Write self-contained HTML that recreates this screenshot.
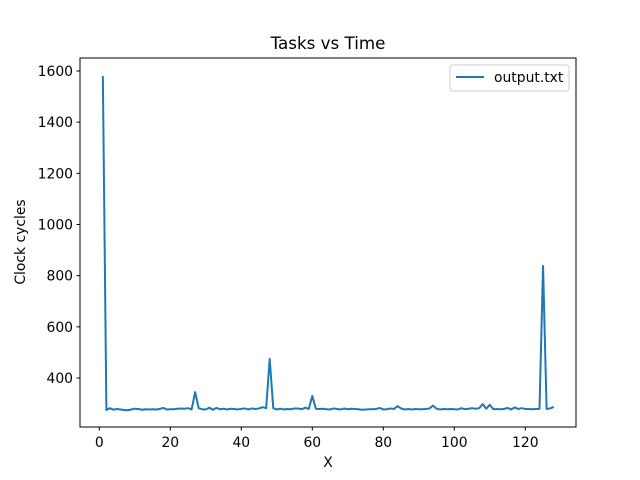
<!DOCTYPE html>
<html><head><meta charset="utf-8"><style>
body{margin:0;background:#fff}
svg{display:block;font-family:"DejaVu Sans","Liberation Sans",sans-serif}
</style></head><body>
<svg id="c" width="640" height="480">
<rect x="0" y="0" width="640" height="480" fill="#fff"/>
<text x="328" y="49" font-size="16.7" text-anchor="middle">Tasks vs Time</text>
<g id="plot"></g>
<rect x="80" y="58" width="496" height="369" fill="none" stroke="#000" stroke-width="1"/>
<text x="328" y="467" font-size="13.9" text-anchor="middle">X</text>
<text transform="translate(25,242) rotate(-90)" font-size="13.9" text-anchor="middle">Clock cycles</text>
<g>
<rect x="450" y="65" width="119" height="26" rx="3" fill="#fff" stroke="#ccc"/>
<line x1="456" y1="77" x2="484" y2="77" stroke="#1f77b4" stroke-width="2"/>
<text x="494" y="82" font-size="13.9">output.txt</text>
</g>
</svg>
<script>
const xTicks=[0,20,40,60,80,100,120];
const yTicks=[400,600,800,1000,1200,1400,1600];
const xs=[];for(let i=1;i<=128;i++)xs.push(i);
const ys=[1580,275,282,276,279,277,275,274,277,280,279,276,278,277,278,277,279,283,277,278,278,280,281,280,282,277,345,282,278,277,284,276,283,278,280,277,280,279,277,280,281,277,281,279,281,286,282,475,282,277,280,277,279,278,281,281,278,284,279,330,280,279,280,278,277,281,279,277,281,278,280,279,278,276,277,278,278,279,283,277,278,281,279,290,281,277,279,277,279,278,278,279,281,292,280,277,279,278,279,278,277,282,278,280,282,280,282,298,280,295,278,279,278,279,283,277,285,279,282,279,279,278,279,280,838,279,281,287];
const X=v=>99.3+v*3.55;
const Y=v=>378-(v-400)*(378-71)/1200;
const g=document.getElementById('plot');
const ns='http://www.w3.org/2000/svg';
xTicks.forEach(t=>{
 const l=document.createElementNS(ns,'line');
 
 
 l.setAttribute('x1',X(t));l.setAttribute('x2',X(t));l.setAttribute('y1',427);l.setAttribute('y2',430.5);l.setAttribute('stroke','#000');g.appendChild(l);
 const s=document.createElementNS(ns,'text');
 
 
 s.setAttribute('x',X(t));s.setAttribute('y',447);s.setAttribute('font-size','13.9');s.setAttribute('text-anchor','middle');s.textContent=t;g.appendChild(s);
});
yTicks.forEach(t=>{
 const l=document.createElementNS(ns,'line');
 
 
 l.setAttribute('x1',76.5);l.setAttribute('x2',80);l.setAttribute('y1',Y(t));l.setAttribute('y2',Y(t));l.setAttribute('stroke','#000');g.appendChild(l);
 const s=document.createElementNS(ns,'text');
 
 
 s.setAttribute('x',73);s.setAttribute('y',Y(t)+5);s.setAttribute('font-size','13.9');s.setAttribute('text-anchor','end');s.textContent=t;g.appendChild(s);
});
const p=document.createElementNS(ns,'polyline');


p.setAttribute('points',xs.map((x,i)=>X(x)+','+Y(ys[i])).join(' '));
p.setAttribute('fill','none');p.setAttribute('stroke','#1f77b4');p.setAttribute('stroke-width','2');p.setAttribute('stroke-linejoin','round');
g.appendChild(p);
</script>
</body></html>
